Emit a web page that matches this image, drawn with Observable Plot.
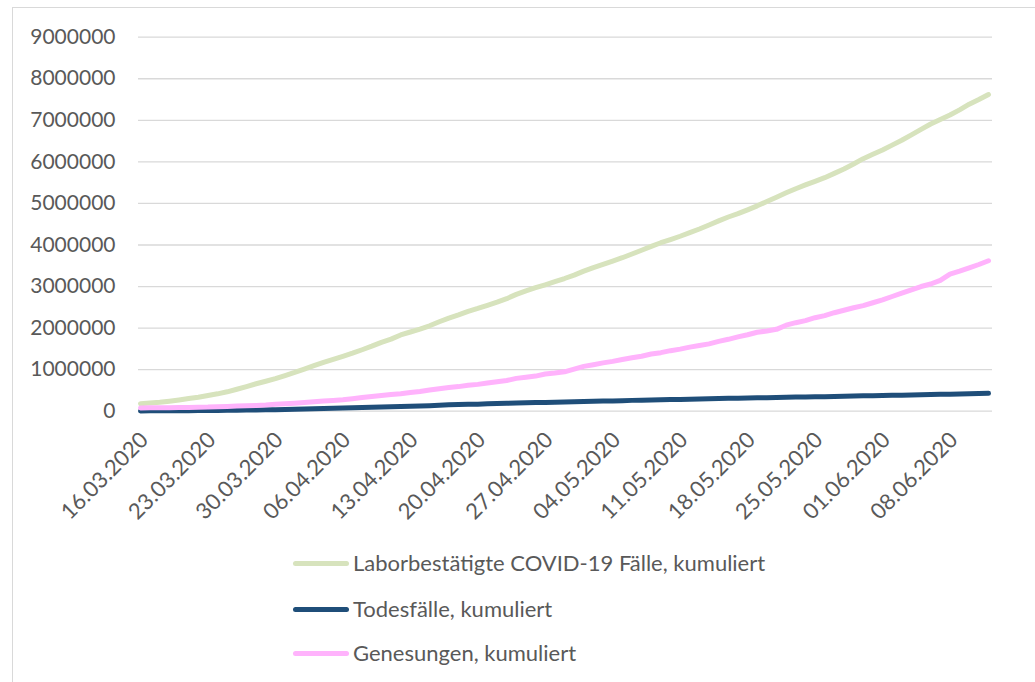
<!DOCTYPE html>
<html>
<head>
<meta charset="utf-8">
<script src="https://cdn.jsdelivr.net/npm/d3@7"></script>
<script src="https://cdn.jsdelivr.net/npm/@observablehq/plot@0.6"></script>
<style>
  html, body { margin: 0; padding: 0; background: #fff; overflow: hidden; }
  #page { position: relative; width: 1035px; height: 682px; overflow: hidden;
          font-family: Lato, "Open Sans", sans-serif; color: #595959; }
  #frame { position: absolute; left: 12px; top: 7px; width: 1200px; height: 900px;
           border: 1px solid #d9d9d9; box-sizing: border-box; }
  #chart { position: absolute; left: 0; top: 0; }
  #legend { position: absolute; left: 0; top: 530px; width: 1035px; height: 152px; }
  .item { position: absolute; left: 293px; height: 0; display: flex; align-items: center; }
  .swatch { width: 56px; height: 5px; border-radius: 3px; margin-right: 4px; }
  .name { font-size: 22px; white-space: nowrap; line-height: 1; }
</style>
</head>
<body>
<div id="page">
  <div id="frame"></div>
  <div id="chart"></div>
  <div id="legend"></div>
</div>
<script>
// Cumulative worldwide figures, one value per day from 16.03.2020 to 12.06.2020
const startDate = "2020-03-16";

const cases = [
  181000, 197000, 214000, 242000, 272000, 304000, 337000,
  378000, 418000, 467000, 529000, 593000, 660000, 720000,
  782000, 857000, 932000, 1013000, 1095000, 1176000, 1249000,
  1321000, 1396000, 1479000, 1565000, 1657000, 1735000, 1835000,
  1906000, 1976000, 2056000, 2152000, 2240000, 2317000, 2401000,
  2472000, 2549000, 2624000, 2708000, 2811000, 2896000, 2972000,
  3042000, 3117000, 3193000, 3275000, 3370000, 3457000, 3535000,
  3614000, 3693000, 3784000, 3873000, 3967000, 4054000, 4131000,
  4210000, 4295000, 4385000, 4482000, 4580000, 4673000, 4753000,
  4846000, 4942000, 5045000, 5150000, 5255000, 5354000, 5445000,
  5531000, 5619000, 5723000, 5830000, 5950000, 6077000, 6183000,
  6285000, 6403000, 6519000, 6649000, 6781000, 6912000, 7022000,
  7128000, 7252000, 7388000, 7500000, 7620000
];

const deaths = [
  7100, 7900, 8700, 9800, 11400, 13000, 14600,
  16500, 18600, 21200, 24300, 27400, 30700, 34000,
  37500, 42100, 47000, 53000, 58800, 64700, 69500,
  74600, 82100, 88300, 95700, 102700, 108500, 114100,
  119500, 125900, 134000, 143600, 153800, 159500, 165000,
  169900, 177500, 184000, 190600, 197200, 202800, 206500,
  211100, 217700, 224200, 229900, 235300, 240500, 244100,
  247800, 254000, 260500, 266000, 271900, 276500, 280100,
  283500, 288900, 294200, 299400, 304800, 309000, 312900,
  316300, 321500, 326400, 331600, 336900, 341000, 344100,
  345600, 350600, 355700, 360300, 365300, 369500, 372500,
  375800, 381000, 386600, 392000, 398500, 402700, 406400,
  409700, 414900, 419900, 424400, 429000
];

const recovered = [
  78000, 80900, 83300, 84900, 87400, 91700, 97500,
  98300, 107700, 113800, 122200, 130900, 139400, 149100,
  164600, 178000, 193200, 210300, 225800, 246200, 259900,
  276500, 300100, 328700, 353800, 376300, 402100, 421700,
  448700, 474000, 511000, 542100, 568300, 591700, 623900,
  645700, 679800, 710400, 738500, 789800, 817000, 845000,
  893700, 916800, 948400, 1014800, 1078200, 1118500, 1162700,
  1198800, 1245400, 1284700, 1322900, 1375300, 1408700, 1456500,
  1493400, 1542500, 1580000, 1620000, 1680000, 1730000, 1786900,
  1838900, 1900000, 1930000, 1970000, 2070000, 2130000, 2180000,
  2250000, 2300000, 2370000, 2430000, 2490000, 2540000, 2610000,
  2680000, 2760000, 2840000, 2920000, 3000000, 3060000, 3150000,
  3300000, 3370000, 3450000, 3530000, 3620000
];

const seriesNames = [
  "Laborbestätigte COVID-19 Fälle, kumuliert",
  "Todesfälle, kumuliert",
  "Genesungen, kumuliert"
];
const seriesColors = ["#d7e3bd", "#1f4e79", "#ffb3fc"];

const yTicks = [0, 1000000, 2000000, 3000000, 4000000, 5000000, 6000000, 7000000, 8000000, 9000000];

const tickLabels = [
  "16.03.2020", "23.03.2020", "30.03.2020", "06.04.2020", "13.04.2020",
  "20.04.2020", "27.04.2020", "04.05.2020", "11.05.2020", "18.05.2020",
  "25.05.2020", "01.06.2020", "08.06.2020"
];

// Long-format rows for the line mark
const day0 = new Date(startDate + "T00:00:00Z");
const dates = cases.map((_, i) => d3.utcDay.offset(day0, i));
const rows = [];
[cases, deaths, recovered].forEach((values, s) => {
  values.forEach((v, i) => rows.push({date: dates[i], value: v, series: seriesNames[s]}));
});

const parseLabel = d3.utcParse("%d.%m.%Y");
const formatLabel = d3.utcFormat("%d.%m.%Y");
const tickDates = tickLabels.map(parseLabel);

const chart = Plot.plot({
  width: 1035,
  height: 530,
  marginLeft: 138,
  marginRight: 43,
  marginTop: 36.7,
  marginBottom: 119.3,
  style: {fontFamily: "Lato, 'Open Sans', sans-serif", fontSize: "21px", color: "#595959", background: "transparent", overflow: "visible"},
  x: {type: "utc", domain: [dates[0], dates[dates.length - 1]], insetLeft: 2, insetRight: 4, label: null},
  y: {domain: [0, 9000000], label: null},
  color: {domain: seriesNames, range: seriesColors},
  marks: [
    Plot.ruleY(yTicks, {stroke: "#d9d9d9", strokeWidth: 1.3}),
    Plot.axisY(yTicks, {tickSize: 0, tickPadding: 23, tickFormat: d => String(d), fontSize: 21, fill: "#595959"}),
    Plot.axisX(tickDates, {tickSize: 0, tickPadding: 25, dx: 4, tickRotate: -45, tickFormat: formatLabel, fontSize: 22, fill: "#595959"}),
    Plot.line(rows, {x: "date", y: "value", z: "series", stroke: "series",
                     strokeWidth: 5, strokeLinecap: "round", strokeLinejoin: "round"})
  ]
});
document.getElementById("chart").appendChild(chart);

// Legend under the chart
const legend = document.getElementById("legend");
const legendY = [33, 79, 123];
seriesNames.forEach((name, i) => {
  const item = document.createElement("div");
  item.className = "item";
  item.style.top = legendY[i] + "px";
  const sw = document.createElement("div");
  sw.className = "swatch";
  sw.style.background = seriesColors[i];
  const label = document.createElement("span");
  label.className = "name";
  label.textContent = name;
  item.appendChild(sw);
  item.appendChild(label);
  legend.appendChild(item);
});
</script>
</body>
</html>
